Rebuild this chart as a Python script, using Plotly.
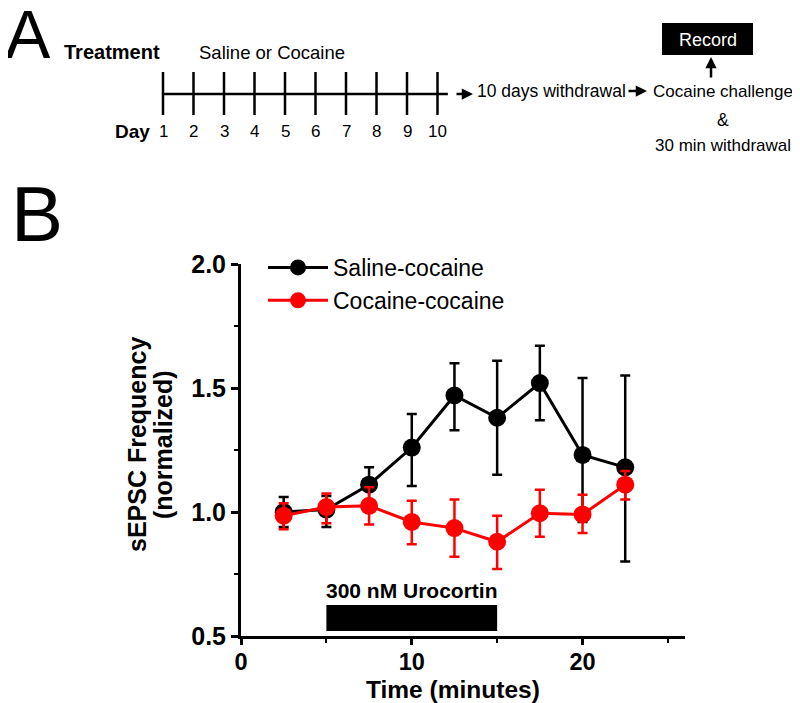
import plotly.graph_objects as go

# the page puts the figure 8 px in from the top-left corner
OFF = 8
W, H = 800 - OFF, 703 - OFF
FONT = "Liberation Sans, Arial, sans-serif"

# panel B data (time in minutes, normalized sEPSC frequency)
time_min = [2.5, 5, 7.5, 10, 12.5, 15, 17.5, 20, 22.5]

sal_mean = [1.00, 1.01, 1.11, 1.26, 1.47, 1.38, 1.52, 1.23, 1.18]
sal_up = [0.06, 0.055, 0.07, 0.135, 0.13, 0.23, 0.15, 0.31, 0.37]
sal_down = [0.06, 0.07, 0.08, 0.155, 0.14, 0.23, 0.15, 0.27, 0.38]

coc_mean = [0.985, 1.02, 1.025, 0.96, 0.935, 0.88, 0.995, 0.99, 1.11]
coc_up = [0.05, 0.055, 0.075, 0.085, 0.115, 0.105, 0.095, 0.08, 0.055]
coc_down = [0.055, 0.065, 0.075, 0.09, 0.115, 0.11, 0.095, 0.075, 0.06]

drug_on = [5, 15]
drug_label = "300 nM Urocortin"

# panel A timeline
days = list(range(1, 11))


def px(x):
    return (x - OFF) / W


def py(y):
    return 1 - (y - OFF) / H


fig = go.Figure()

fig.add_trace(go.Scatter(
    x=time_min, y=sal_mean, name="Saline-cocaine", mode="lines+markers",
    line=dict(color="black", width=3),
    marker=dict(color="black", size=18),
    error_y=dict(type="data", array=sal_up, arrayminus=sal_down,
                 color="black", thickness=2.5, width=5),
))
fig.add_trace(go.Scatter(
    x=time_min, y=coc_mean, name="Cocaine-cocaine", mode="lines+markers",
    line=dict(color="#ff0000", width=3),
    marker=dict(color="#ff0000", size=18),
    error_y=dict(type="data", array=coc_up, arrayminus=coc_down,
                 color="#ff0000", thickness=2.5, width=5),
))

# timeline of panel A, on a hidden axis in day units
tl_x, tl_y = [days[0], days[-1] + 0.34, None], [94, 94, None]
for d in days:
    tl_x += [d, d, None]
    tl_y += [72, 115, None]
fig.add_trace(go.Scatter(
    x=tl_x, y=tl_y, mode="lines", line=dict(color="black", width=2.5),
    xaxis="x2", yaxis="y2", showlegend=False, hoverinfo="skip",
))

ann = []
for d in days:
    ann.append(dict(x=d, y=131, xref="x2", yref="y2", text=str(d),
                    font=dict(size=17)))

ann += [
    dict(x=px(28), y=py(34), text="A", font=dict(size=68)),
    dict(x=px(9), y=py(214), text="B", font=dict(size=78), xanchor="left"),
    dict(x=px(112), y=py(52), text="<b>Treatment</b>", font=dict(size=20)),
    dict(x=px(272), y=py(52), text="Saline or Cocaine", font=dict(size=18.5)),
    dict(x=px(133), y=py(132), text="<b>Day</b>", font=dict(size=19)),
    dict(x=px(551), y=py(91), text="10 days withdrawal", font=dict(size=17.5)),
    dict(x=px(723), y=py(91), text="Cocaine challenge", font=dict(size=17)),
    dict(x=px(723), y=py(120), text="&", font=dict(size=17.5)),
    dict(x=px(723), y=py(145), text="30 min withdrawal", font=dict(size=17)),
    dict(x=px(708), y=py(40), text="Record", font=dict(size=18, color="white")),
    # axis titles of panel B
    dict(x=px(137), y=py(445), text="<b>sEPSC Frequency</b>",
         textangle=-90, font=dict(size=25)),
    dict(x=px(163), y=py(445), text="<b>(normalized)</b>",
         textangle=-90, font=dict(size=25)),
    dict(x=px(453), y=py(689), text="<b>Time (minutes)</b>", font=dict(size=24.5)),
]
for a in ann:
    a.setdefault("showarrow", False)
    a.setdefault("xref", "paper")
    a.setdefault("yref", "paper")
    a.setdefault("xanchor", "center")
    a["yanchor"] = "middle"

# arrows
for x0, x1, y0, y1 in [(455, 473, 94, 94), (627, 647, 91, 91), (711, 711, 79, 57)]:
    ann.append(dict(x=px(x1), y=py(y1), ax=x0 - x1, ay=y0 - y1, xref="paper",
                    yref="paper", text="", showarrow=True, arrowhead=2,
                    arrowsize=0.9, arrowwidth=2.5, arrowcolor="black",
                    standoff=0, startstandoff=0))

# urocortin bar
ann.append(dict(x=sum(drug_on) / 2, y=0.685, xref="x", yref="y",
                text=f"<b>{drug_label}</b>", showarrow=False,
                xanchor="center", yanchor="middle", font=dict(size=21)))

shapes = [
    dict(type="rect", xref="x", yref="y", x0=drug_on[0], x1=drug_on[1],
         y0=0.52, y1=0.625, fillcolor="black", line=dict(width=0)),
    dict(type="rect", xref="paper", yref="paper", x0=px(662), x1=px(753),
         y0=py(55), y1=py(23), fillcolor="black", line=dict(width=0)),
]

axis_common = dict(
    showline=True, linecolor="black", linewidth=3, showgrid=False,
    zeroline=False, ticks="outside", tickwidth=3, tickcolor="black",
    automargin=False,
)

fig.update_layout(
    width=W, height=H, autosize=False,
    margin=dict(l=0, r=0, t=0, b=0, pad=0, autoexpand=False),
    paper_bgcolor="white", plot_bgcolor="white",
    font=dict(family=FONT, color="black"),
    xaxis=dict(domain=[px(241), px(685)], range=[0, 26], dtick=10,
               ticklen=6, tickfont=dict(size=23.5, color="black", family=FONT),
               ticklabelstandoff=-3,
               tickprefix="<b>", ticksuffix="</b>",
               minor=dict(ticks="outside", dtick=5, ticklen=4, tickwidth=2,
                          tickcolor="black"),
               anchor="y", **axis_common),
    yaxis=dict(domain=[py(636), py(264)], range=[0.5, 2.0], dtick=0.5,
               ticklen=7, tickfont=dict(size=25, color="black", family=FONT),
               tickformat=".1f", tickprefix="<b>", ticksuffix="</b>",
               minor=dict(ticks="outside", dtick=0.25, ticklen=4, tickwidth=2,
                          tickcolor="black"),
               anchor="x", **axis_common),
    xaxis2=dict(domain=[0, 1], range=[1 - (163 - OFF) / 30.5, 1 + 637 / 30.5],
                visible=False, anchor="y2", automargin=False),
    yaxis2=dict(domain=[py(165), 1], range=[165, OFF], visible=False,
                anchor="x2", automargin=False),
    legend=dict(x=px(263), y=py(246), xanchor="left", yanchor="top",
                bgcolor="rgba(0,0,0,0)", font=dict(size=23, color="black"),
                tracegroupgap=0, itemwidth=60),
    annotations=ann,
    shapes=shapes,
)

fig.write_html("out.html")
